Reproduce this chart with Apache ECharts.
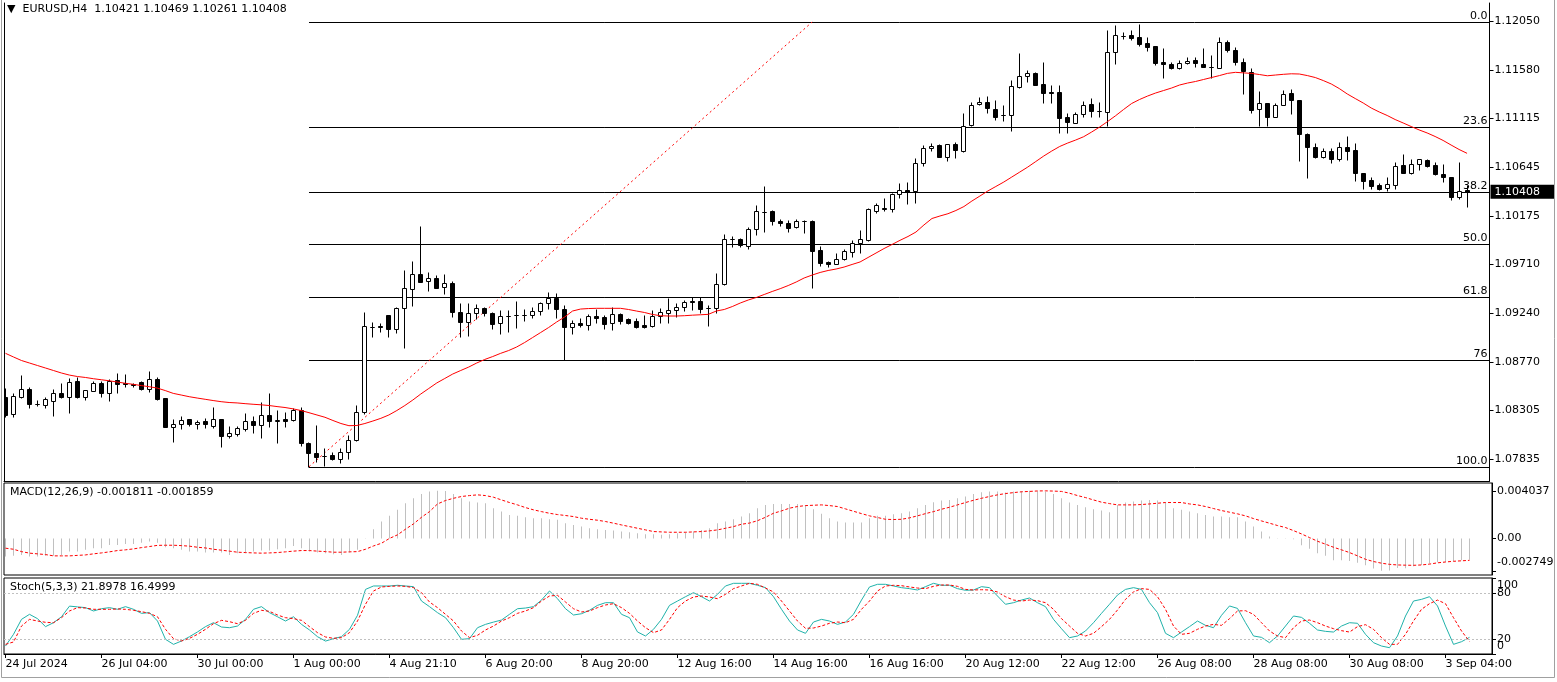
<!DOCTYPE html>
<html><head><meta charset="utf-8">
<script src="https://cdn.jsdelivr.net/npm/echarts@6/dist/echarts.min.js"></script>
<style>html,body{margin:0;padding:0;background:#fff}#c{width:1557px;height:682px}</style>
</head><body><div id="c"></div>
<script>
const symbolName = 'EURUSD,H4';
const open = [1.08436,1.08266,1.08436,1.08510,1.08363,1.08356,1.08397,1.08468,1.08436,1.08587,
1.08436,1.08493,1.08565,1.08468,1.08596,1.08565,1.08555,1.08574,1.08507,1.08603,
1.08420,1.08147,1.08170,1.08218,1.08173,1.08202,1.08157,1.08218,1.08061,1.08077,
1.08130,1.08202,1.08161,1.08257,1.08205,1.08221,1.08212,1.08308,1.07987,1.07891,
1.07868,1.07872,1.07834,1.07907,1.08019,1.08291,1.09109,1.09116,1.09222,1.09084,
1.09286,1.09469,1.09616,1.09549,1.09575,1.09488,1.09526,1.09248,1.09151,1.09238,
1.09286,1.09238,1.09142,1.09209,1.09222,1.09225,1.09222,1.09260,1.09334,1.09382,
1.09282,1.09109,1.09148,1.09129,1.09212,1.09200,1.09142,1.09228,1.09180,1.09164,
1.09126,1.09119,1.09212,1.09238,1.09270,1.09296,1.09356,1.09356,1.09292,1.09286,
1.09517,1.09950,1.09950,1.09885,1.10046,1.10215,1.10222,1.10126,1.10104,1.10071,
1.10126,1.10126,1.09847,1.09734,1.09709,1.09758,1.09831,1.09911,1.09943,1.10225,
1.10254,1.10238,1.10383,1.10424,1.10415,1.10687,1.10825,1.10857,1.10745,1.10864,
1.10799,1.11045,1.11249,1.11268,1.11201,1.11146,1.11146,1.11419,1.11521,1.11553,
1.11444,1.11364,1.11364,1.11124,1.11072,1.11152,1.11249,1.11187,1.11178,1.11749,
1.11909,1.11915,1.11893,1.11836,1.11810,1.11656,1.11637,1.11595,1.11643,1.11675,
1.11634,1.11605,1.11595,1.11851,1.11771,1.11653,1.11557,1.11201,1.11258,1.11124,
1.11242,1.11354,1.11290,1.10960,1.10841,1.10745,1.10799,1.10722,1.10835,1.10809,
1.10585,1.10520,1.10472,1.10440,1.10472,1.10665,1.10585,1.10674,1.10713,1.10665,
1.10578,1.10552,1.10354,1.10421];
const high = [1.08517,1.08474,1.08645,1.08532,1.08404,1.08430,1.08507,1.08565,1.08619,1.08628,
1.08500,1.08587,1.08587,1.08603,1.08667,1.08654,1.08565,1.08590,1.08683,1.08628,
1.08420,1.08221,1.08250,1.08218,1.08212,1.08228,1.08334,1.08218,1.08154,1.08154,
1.08279,1.08250,1.08385,1.08474,1.08308,1.08286,1.08324,1.08334,1.07997,1.08164,
1.07939,1.07907,1.07939,1.08067,1.08356,1.09251,1.09151,1.09142,1.09222,1.09302,
1.09655,1.09741,1.10078,1.09638,1.09606,1.09616,1.09549,1.09334,1.09334,1.09328,
1.09303,1.09253,1.09270,1.09270,1.09356,1.09276,1.09302,1.09350,1.09446,1.09436,
1.09318,1.09174,1.09195,1.09228,1.09276,1.09222,1.09296,1.09238,1.09190,1.09190,
1.09222,1.09270,1.09286,1.09382,1.09334,1.09366,1.09398,1.09398,1.09318,1.09623,
1.10001,1.09982,1.09959,1.10071,1.10280,1.10463,1.10232,1.10145,1.10136,1.10145,
1.10136,1.10136,1.09888,1.09741,1.09815,1.09854,1.09943,1.10039,1.10248,1.10296,
1.10344,1.10398,1.10488,1.10504,1.10735,1.10857,1.10873,1.10864,1.10866,1.10886,
1.11162,1.11271,1.11322,1.11328,1.11290,1.11242,1.11482,1.11739,1.11579,1.11563,
1.11659,1.11434,1.11434,1.11168,1.11172,1.11283,1.11312,1.11274,1.11963,1.12012,
1.11947,1.11963,1.12018,1.11899,1.11812,1.11787,1.11653,1.11675,1.11701,1.11707,
1.11793,1.11723,1.11899,1.11867,1.11797,1.11691,1.11601,1.11377,1.11260,1.11258,
1.11386,1.11396,1.11292,1.10976,1.10880,1.10825,1.10831,1.10889,1.10944,1.10880,
1.10587,1.10545,1.10488,1.10545,1.10697,1.10771,1.10719,1.10721,1.10719,1.10697,
1.10674,1.10554,1.10697,1.10469];
const low = [1.08238,1.08238,1.08426,1.08330,1.08349,1.08324,1.08250,1.08420,1.08276,1.08426,
1.08404,1.08493,1.08430,1.08394,1.08468,1.08532,1.08526,1.08500,1.08484,1.08404,
1.08141,1.08003,1.08122,1.08157,1.08122,1.08138,1.08138,1.07955,1.08041,1.08061,
1.08103,1.08089,1.08041,1.08147,1.07993,1.08147,1.08202,1.07964,1.07762,1.07810,
1.07772,1.07827,1.07795,1.07834,1.08012,1.08269,1.09013,1.09061,1.09007,1.09051,
1.08907,1.09311,1.09540,1.09455,1.09482,1.09421,1.09200,1.09013,1.09023,1.09183,
1.09216,1.09087,1.09036,1.09061,1.09100,1.09164,1.09190,1.09219,1.09279,1.09190,
1.08789,1.09036,1.09109,1.09077,1.09142,1.09084,1.09077,1.09132,1.09132,1.09100,
1.09100,1.09109,1.09142,1.09142,1.09200,1.09260,1.09270,1.09244,1.09116,1.09238,
1.09510,1.09879,1.09873,1.09854,1.09991,1.10023,1.10087,1.10081,1.10017,1.10062,
1.10013,1.09479,1.09696,1.09686,1.09709,1.09751,1.09783,1.09815,1.09936,1.10206,
1.10222,1.10215,1.10350,1.10290,1.10296,1.10658,1.10802,1.10739,1.10706,1.10735,
1.10793,1.11037,1.11242,1.11168,1.11098,1.11088,1.10995,1.11409,1.11466,1.11432,
1.11264,1.11264,1.10976,1.10976,1.11066,1.11124,1.11124,1.11124,1.11043,1.11636,
1.11874,1.11867,1.11812,1.11761,1.11627,1.11499,1.11589,1.11589,1.11637,1.11611,
1.11603,1.11505,1.11593,1.11749,1.11627,1.11345,1.11168,1.11043,1.11043,1.11122,
1.11240,1.11155,1.10706,1.10543,1.10735,1.10735,1.10687,1.10706,1.10713,1.10513,
1.10431,1.10431,1.10424,1.10415,1.10431,1.10583,1.10575,1.10616,1.10649,1.10568,
1.10501,1.10328,1.10335,1.10261];
const close = [1.08260,1.08443,1.08507,1.08363,1.08365,1.08411,1.08468,1.08436,1.08580,1.08436,
1.08500,1.08565,1.08468,1.08590,1.08555,1.08558,1.08548,1.08507,1.08603,1.08414,
1.08147,1.08170,1.08212,1.08170,1.08195,1.08170,1.08218,1.08061,1.08084,1.08132,
1.08202,1.08161,1.08257,1.08205,1.08207,1.08205,1.08308,1.07987,1.07891,1.07859,
1.07866,1.07839,1.07907,1.08019,1.08286,1.09116,1.09111,1.09103,1.09084,1.09286,
1.09479,1.09616,1.09542,1.09575,1.09484,1.09526,1.09248,1.09151,1.09238,1.09286,
1.09238,1.09135,1.09212,1.09212,1.09219,1.09219,1.09260,1.09334,1.09382,1.09282,
1.09109,1.09142,1.09129,1.09212,1.09193,1.09135,1.09228,1.09167,1.09142,1.09109,
1.09109,1.09212,1.09248,1.09270,1.09302,1.09350,1.09344,1.09282,1.09290,1.09517,
1.09950,1.09952,1.09895,1.10046,1.10222,1.10217,1.10126,1.10104,1.10062,1.10126,
1.10124,1.09837,1.09725,1.09709,1.09758,1.09837,1.09911,1.09950,1.10238,1.10280,
1.10238,1.10383,1.10424,1.10408,1.10681,1.10825,1.10847,1.10745,1.10864,1.10809,
1.11043,1.11239,1.11274,1.11210,1.11129,1.11144,1.11425,1.11521,1.11547,1.11434,
1.11360,1.11362,1.11120,1.11081,1.11155,1.11242,1.11187,1.11185,1.11749,1.11915,
1.11907,1.11889,1.11829,1.11803,1.11649,1.11634,1.11595,1.11643,1.11665,1.11643,
1.11605,1.11603,1.11845,1.11771,1.11653,1.11569,1.11194,1.11258,1.11124,1.11242,
1.11348,1.11290,1.10960,1.10841,1.10745,1.10799,1.10722,1.10835,1.10802,1.10585,
1.10513,1.10465,1.10434,1.10478,1.10658,1.10585,1.10671,1.10719,1.10658,1.10575,
1.10552,1.10354,1.10418,1.10408];
const ma = [1.08853,1.08818,1.08784,1.08760,1.08736,1.08712,1.08688,1.08664,1.08644,1.08630,
1.08621,1.08609,1.08599,1.08589,1.08577,1.08565,1.08555,1.08543,1.08532,1.08519,
1.08495,1.08468,1.08452,1.08436,1.08423,1.08411,1.08399,1.08388,1.08380,1.08376,
1.08369,1.08363,1.08358,1.08351,1.08341,1.08332,1.08319,1.08303,1.08282,1.08260,
1.08238,1.08207,1.08178,1.08157,1.08159,1.08178,1.08202,1.08228,1.08260,1.08303,
1.08351,1.08404,1.08462,1.08515,1.08568,1.08611,1.08654,1.08688,1.08721,1.08760,
1.08794,1.08822,1.08853,1.08880,1.08914,1.08957,1.09005,1.09053,1.09101,1.09154,
1.09202,1.09260,1.09279,1.09284,1.09286,1.09286,1.09286,1.09286,1.09275,1.09260,
1.09246,1.09227,1.09215,1.09212,1.09212,1.09215,1.09220,1.09224,1.09228,1.09260,
1.09275,1.09303,1.09337,1.09366,1.09390,1.09419,1.09448,1.09475,1.09505,1.09539,
1.09578,1.09606,1.09631,1.09650,1.09664,1.09683,1.09708,1.09732,1.09775,1.09818,
1.09861,1.09900,1.09940,1.09977,1.10020,1.10088,1.10150,1.10174,1.10196,1.10227,
1.10265,1.10318,1.10366,1.10415,1.10458,1.10501,1.10549,1.10597,1.10645,1.10698,
1.10751,1.10799,1.10843,1.10876,1.10905,1.10937,1.10982,1.11030,1.11083,1.11139,
1.11199,1.11256,1.11295,1.11328,1.11357,1.11381,1.11405,1.11434,1.11453,1.11468,
1.11487,1.11506,1.11525,1.11546,1.11556,1.11551,1.11546,1.11535,1.11523,1.11530,
1.11537,1.11542,1.11540,1.11525,1.11506,1.11477,1.11444,1.11400,1.11348,1.11304,
1.11261,1.11213,1.11175,1.11141,1.11102,1.11069,1.11035,1.11002,1.10973,1.10939,
1.10901,1.10857,1.10814,1.10777];
const macd = [-0.00154,-0.00148,-0.00140,-0.00154,-0.00154,-0.00148,-0.00148,-0.00140,-0.00112,-0.00112,
-0.00097,-0.00083,-0.00083,-0.00055,-0.00055,-0.00047,-0.00047,-0.00036,-0.00027,-0.00036,
-0.00075,-0.00083,-0.00097,-0.00112,-0.00112,-0.00120,-0.00120,-0.00120,-0.00140,-0.00125,
-0.00125,-0.00112,-0.00103,-0.00103,-0.00092,-0.00083,-0.00064,-0.00083,-0.00112,-0.00120,
-0.00125,-0.00134,-0.00140,-0.00120,-0.00097,-0.00003,0.00078,0.00143,0.00191,0.00242,
0.00298,0.00340,0.00377,0.00397,0.00403,0.00401,0.00377,0.00340,0.00312,0.00304,
0.00298,0.00256,0.00227,0.00199,0.00191,0.00179,0.00171,0.00170,0.00162,0.00157,
0.00129,0.00114,0.00100,0.00086,0.00078,0.00072,0.00066,0.00058,0.00052,0.00044,
0.00035,0.00035,0.00030,0.00035,0.00044,0.00049,0.00058,0.00072,0.00086,0.00129,
0.00143,0.00162,0.00185,0.00213,0.00256,0.00284,0.00292,0.00292,0.00292,0.00291,
0.00284,0.00247,0.00208,0.00171,0.00143,0.00134,0.00134,0.00134,0.00171,0.00191,
0.00191,0.00205,0.00213,0.00227,0.00256,0.00284,0.00307,0.00321,0.00326,0.00340,
0.00355,0.00377,0.00391,0.00397,0.00397,0.00388,0.00397,0.00400,0.004037,0.00400,
0.00395,0.00377,0.00340,0.00304,0.00284,0.00264,0.00247,0.00236,0.00222,0.00284,
0.00304,0.00312,0.00321,0.00326,0.00321,0.00304,0.00256,0.00242,0.00227,0.00213,
0.00199,0.00185,0.00185,0.00179,0.00179,0.00143,0.00100,0.00058,0.00016,0.00001,
0.00002,-0.00007,-0.00058,-0.00087,-0.00126,-0.00147,-0.00186,-0.00186,-0.00191,-0.00206,
-0.00227,-0.00255,-0.002749,-0.00272,-0.00250,-0.00252,-0.00235,-0.00225,-0.00212,-0.00203,
-0.00198,-0.00192,-0.00186,-0.001811];
const signal = [-0.00083,-0.00092,-0.00112,-0.00125,-0.00131,-0.00137,-0.00148,-0.00148,-0.00148,-0.00144,
-0.00140,-0.00131,-0.00123,-0.00114,-0.00103,-0.00097,-0.00089,-0.00078,-0.00069,-0.00059,
-0.00058,-0.00058,-0.00061,-0.00066,-0.00075,-0.00081,-0.00092,-0.00100,-0.00108,-0.00117,
-0.00120,-0.00123,-0.00125,-0.00123,-0.00120,-0.00114,-0.00108,-0.00103,-0.00103,-0.00108,
-0.00112,-0.00117,-0.00117,-0.00114,-0.00112,-0.00092,-0.00064,-0.00041,0.00000,0.00030,
0.00078,0.00123,0.00179,0.00227,0.00292,0.00321,0.00340,0.00355,0.00363,0.00369,
0.00363,0.00349,0.00326,0.00304,0.00284,0.00261,0.00242,0.00227,0.00213,0.00202,
0.00194,0.00185,0.00171,0.00162,0.00154,0.00143,0.00129,0.00114,0.00100,0.00086,
0.00072,0.00058,0.00055,0.00052,0.00052,0.00052,0.00055,0.00058,0.00064,0.00072,
0.00086,0.00100,0.00120,0.00130,0.00150,0.00179,0.00213,0.00233,0.00256,0.00270,
0.00278,0.00281,0.00284,0.00278,0.00270,0.00250,0.00230,0.00210,0.00191,0.00177,
0.00162,0.00160,0.00162,0.00174,0.00191,0.00210,0.00227,0.00247,0.00264,0.00284,
0.00304,0.00323,0.00340,0.00355,0.00369,0.00380,0.00388,0.00395,0.00398,0.00402,
0.00403,0.00401,0.00398,0.00383,0.00363,0.00346,0.00326,0.00307,0.00295,0.00284,
0.00284,0.00284,0.00287,0.00292,0.00298,0.00304,0.00304,0.00304,0.00292,0.00284,
0.00270,0.00253,0.00236,0.00222,0.00208,0.00191,0.00168,0.00148,0.00129,0.00109,
0.00092,0.00066,0.00038,0.00007,-0.00024,-0.00049,-0.00075,-0.00097,-0.00120,-0.00148,
-0.00177,-0.00196,-0.00210,-0.00220,-0.00225,-0.00227,-0.00228,-0.00225,-0.00218,-0.00207,
-0.00200,-0.00194,-0.00190,-0.001859];
const stochK = [10.5,25.9,45.6,52.2,46.5,36,41.2,49,63,62,
61,56.6,59.6,61,58.8,62.3,58.8,53.5,54.4,43.4,
19.3,12.7,17.1,22.8,29,36,41.2,35.5,34.6,36.8,
45.6,58.8,62.3,54.4,49,43.4,49,39,31.6,22.8,
17,20.2,22.8,32.5,50.9,85,89.5,89.5,89.5,90.4,
89.5,88.6,69.7,62.3,54.4,47.8,34.6,19.3,20.2,34.6,
39,42,44.7,52.2,59.6,60.5,62.3,71,82.9,72.8,
59.6,51.3,53,57.5,64,67.5,67.5,52.2,47.8,29,
23.7,32.5,45.6,64,69.7,75.4,80.7,75.4,69.7,78.5,
89.5,93,93,93,90.4,87.3,75.4,58.8,43.4,31.6,
27.2,42.1,45.6,43.4,39,42.1,52.2,71,88.2,91.7,
91.7,89.5,87.3,86,84.2,88.6,93,90.4,90.4,86,
83.8,84.2,88.6,87.3,76.3,65.4,67.5,71,73.7,67.5,
62.3,45.6,33.3,21.5,23.7,30.3,41.2,53.5,65.4,77.6,
85,87.3,85,67.5,54.4,27.2,21.5,28.9,36,43.4,
37.7,34.6,50.9,63.2,60,41.2,23.7,21.9,14.9,23.7,
36.8,50,48.2,40.4,31.6,29.8,28.9,36.8,41.2,40.4,
25.9,14.9,10.5,8.3,23.7,50,69.7,71.9,75.4,63.2,
36.8,12.7,16.2,21.8978];
const stochD = [12.7,15.8,36.8,45.6,43.4,41.7,41.2,47.8,56.6,61,
60.5,58.8,58.8,58.8,59.2,58.8,57.5,55.7,53.5,49,
32.5,20.2,17.1,20.6,25.9,32.5,39.9,44.3,42.5,39.9,
44.3,53.5,57.5,56.1,51.3,47.8,46.5,44.3,36,28.1,
22.4,20.6,21.5,28.1,43.4,65.4,82.9,88.2,89,89.5,
89,87.3,80.7,68.4,61,52.2,43.4,30.3,21.5,24.6,
31.6,36.8,43.4,47.8,53.5,56.6,61,69.7,76.3,77.2,
68.4,59.6,55.3,56.6,61,64.5,66.2,61,53.5,43.4,
34.6,28.1,31.6,45.6,61,69.7,75,76.3,75,72.8,
78.5,86,89.5,93,91.7,86.8,81.6,69.7,56.6,43.4,
33.8,34.2,36.8,40.4,42.1,41.2,45.6,58.8,69.7,82.9,
89.5,90.4,89.9,88.2,86.8,86,89,90.8,90.8,89,
85,84.2,84.6,84.2,81.6,75.4,71,69.7,71,70.2,
67.5,58.8,46.5,36.8,27.2,23.7,27.2,36,45.6,57.9,
71.9,81.6,86,85,75.4,58.8,36.8,25.9,27.2,32.5,
36.8,39,37.7,46.5,56.6,57,52.2,41.2,30.3,23.7,
21.5,34.6,43.4,44.7,41.2,36.8,33.3,30.7,28.9,36,
38.6,32.5,21.5,12.7,12.7,25.9,43.4,58.8,66.2,71,
66.2,47.8,30.3,16.4999];
const xTickBars = [0,12,24,36,48,60,72,84,96,108,120,132,144,156,168,180];
const xTickLabels = ['24 Jul 2024','26 Jul 04:00','30 Jul 00:00','1 Aug 00:00','4 Aug 21:10','6 Aug 20:00','8 Aug 20:00','12 Aug 16:00','14 Aug 16:00','16 Aug 16:00','20 Aug 12:00','22 Aug 12:00','26 Aug 08:00','28 Aug 08:00','30 Aug 08:00','3 Sep 04:00'];
const priceTickLabels = ['1.12050','1.11580','1.11115','1.10645','1.10175','1.09710','1.09240','1.08770','1.08305','1.07835'];
const macdTickValues = [0.004037, 0, -0.002749];
const stochLevelTicks = [80, 20];
const stochEdgeTicks = [100, 0];
const stochLevels = [80, 20];
const fibBars = [38, 101];
const fibLow = 1.07762, fibHigh = 1.12040;
const fibLevels = [0, 23.6, 38.2, 50, 61.8, 76, 100];
const fibLabels = ['0.0','23.6','38.2','50.0','61.8','76','100.0'];

const FONT = 'DejaVu Sans';
const last = open.length - 1;
const priceTickValues = priceTickLabels.map(Number);
const chart = echarts.init(document.getElementById('c'), null, {renderer: 'canvas'});
const L = 4, R = 65;
const xMin = -0.1875, xMax = 185.8125;
const txt = {fontFamily: FONT, fontSize: 11, color: '#000'};

function renderCandle(params, api) {
  const i = api.value(0), o = api.value(1), c = api.value(2), l = api.value(3), h = api.value(4);
  const pO = api.coord([i, o]), pC = api.coord([i, c]), pL = api.coord([i, l]), pH = api.coord([i, h]);
  const X = Math.floor(pO[0]) + 0.5;
  const yTop = Math.round(Math.min(pO[1], pC[1])) + 0.5;
  const yBot = Math.round(Math.max(pO[1], pC[1])) + 0.5;
  const bull = c >= o;
  return {type: 'group', children: [
    {type: 'line', shape: {x1: X, y1: Math.round(pH[1]) + 0.5, x2: X, y2: Math.round(pL[1]) + 0.5}, style: {stroke: '#000', lineWidth: 1}},
    {type: 'rect', shape: {x: X - 2, y: yTop, width: 4, height: yBot - yTop}, style: {fill: bull ? '#fff' : '#000', stroke: '#000', lineWidth: 1}}
  ]};
}
function renderFib(params, api) {
  const p = api.coord([api.value(0), api.value(1)]);
  const right = params.coordSys.x + params.coordSys.width;
  const y = Math.round(p[1]) + 0.5;
  return {type: 'group', children: [
    {type: 'line', shape: {x1: p[0], y1: y, x2: right, y2: y}, style: {stroke: '#000', lineWidth: 1}},
    {type: 'text', style: {text: fibLabels[params.dataIndex], x: right - 2, y: y - 1, align: 'right', verticalAlign: 'bottom', fill: '#000', font: '11px "DejaVu Sans"'}}
  ]};
}

const option = {
  animation: false,
  backgroundColor: '#fff',
  graphic: [
    {type: 'line', silent: true, shape: {x1: 1.5, y1: 0, x2: 1.5, y2: 677.5}, style: {stroke: '#a0a0a0', lineWidth: 1}},
    {type: 'line', silent: true, shape: {x1: 1.5, y1: 677.5, x2: 1554.5, y2: 677.5}, style: {stroke: '#a0a0a0', lineWidth: 1}},
    {type: 'line', silent: true, shape: {x1: 1554.5, y1: 0, x2: 1554.5, y2: 677.5}, style: {stroke: '#a0a0a0', lineWidth: 1}}
  ],
  title: [
    {text: '\u25BC  ' + symbolName + '  ' + [open[last], high[last], low[last], close[last]].map(v => v.toFixed(5)).join(' '), left: 7, top: 4, padding: 0, textStyle: Object.assign({fontWeight: 'normal'}, txt)},
    {text: 'MACD(12,26,9) ' + macd[last].toFixed(6) + ' ' + signal[last].toFixed(6), left: 10, top: 487, padding: 0, textStyle: Object.assign({fontWeight: 'normal'}, txt)},
    {text: 'Stoch(5,3,3) ' + stochK[last].toFixed(4) + ' ' + stochD[last].toFixed(4), left: 10, top: 582, padding: 0, textStyle: Object.assign({fontWeight: 'normal'}, txt)}
  ],
  grid: [
    {left: L, right: R, top: 3, height: 478},
    {left: L, right: R, top: 483, height: 92, show: true, borderColor: '#000', borderWidth: 1, backgroundColor: 'transparent'},
    {left: L, right: R, top: 578, height: 76, show: true, borderColor: '#000', borderWidth: 1, backgroundColor: 'transparent'}
  ],
  xAxis: [
    {type: 'value', gridIndex: 0, min: xMin, max: xMax, axisLine: {show: true, onZero: false, lineStyle: {color: '#000'}}, axisTick: {show: false}, axisLabel: {show: false}, splitLine: {show: false}},
    {type: 'value', gridIndex: 1, min: xMin, max: xMax, axisLine: {show: false}, axisTick: {show: false}, axisLabel: {show: false}, splitLine: {show: false}},
    {type: 'value', gridIndex: 2, min: xMin, max: xMax, axisLine: {show: true, onZero: false, lineStyle: {color: '#000'}},
      axisTick: {show: true, length: 4, customValues: xTickBars, lineStyle: {color: '#000'}},
      axisLabel: Object.assign({show: true, customValues: xTickBars, align: 'left', margin: 5, showMinLabel: true, showMaxLabel: true, formatter: v => xTickLabels[xTickBars.indexOf(Math.round(v))] || ''}, txt),
      splitLine: {show: false}}
  ],
  yAxis: [
    {type: 'value', gridIndex: 0, position: 'right', min: 1.07625, max: 1.12223,
      axisLine: {show: true, onZero: false, lineStyle: {color: '#000'}},
      axisTick: {show: true, length: 4, customValues: priceTickValues, lineStyle: {color: '#000'}},
      axisLabel: Object.assign({show: true, customValues: priceTickValues, margin: 5, showMinLabel: true, showMaxLabel: true, formatter: v => v.toFixed(5)}, txt),
      splitLine: {show: false}},
    {type: 'value', gridIndex: 0, position: 'right', min: 1.07625, max: 1.12223,
      axisLine: {show: false}, axisTick: {show: false},
      axisLabel: {show: true, customValues: [close[last]], margin: 1, formatter: v => v.toFixed(5), fontFamily: FONT, fontSize: 11, color: '#fff', backgroundColor: '#000', padding: [2, 14, 1, 4]},
      splitLine: {show: false}},
    {type: 'value', gridIndex: 0, position: 'left', min: 1.07625, max: 1.12223,
      axisLine: {show: true, onZero: false, lineStyle: {color: '#000'}}, axisTick: {show: false}, axisLabel: {show: false}, splitLine: {show: false}},
    {type: 'value', gridIndex: 1, position: 'right', min: -0.003102, max: 0.004695,
      axisLine: {show: true, onZero: false, lineStyle: {color: '#000'}},
      axisTick: {show: true, length: 4, customValues: macdTickValues, lineStyle: {color: '#000'}},
      axisLabel: Object.assign({show: true, customValues: macdTickValues, margin: 5, showMinLabel: true, showMaxLabel: true,
        formatter: v => v === 0 ? '0.00' : (v < 0 ? '{lo|' + v.toFixed(6) + '}' : v.toFixed(6)),
        rich: {lo: {fontFamily: FONT, fontSize: 11, color: '#000', padding: [0, 0, 18, 0]}}}, txt),
      splitLine: {show: false}},
    {type: 'value', gridIndex: 2, position: 'right', min: 0, max: 100,
      axisLine: {show: true, onZero: false, lineStyle: {color: '#000'}},
      axisTick: {show: true, length: 4, customValues: stochLevelTicks.concat(stochEdgeTicks), lineStyle: {color: '#000'}},
      axisLabel: Object.assign({show: true, customValues: stochLevelTicks, margin: 5, formatter: v => String(v)}, txt),
      splitLine: {show: false}},
    {type: 'value', gridIndex: 2, position: 'right', min: 0, max: 100,
      axisLine: {show: false}, axisTick: {show: false},
      axisLabel: Object.assign({show: true, customValues: stochEdgeTicks, margin: 5, showMinLabel: true, showMaxLabel: true,
        formatter: v => v === 100 ? '{hi|100}' : '{lo|0}',
        rich: {hi: {fontFamily: FONT, fontSize: 11, color: '#000', padding: [14, 0, 0, 0]}, lo: {fontFamily: FONT, fontSize: 11, color: '#000', padding: [0, 0, 16, 0]}}}, txt),
      splitLine: {show: false}}
  ],
  series: [
    {type: 'custom', name: 'fib', xAxisIndex: 0, yAxisIndex: 0, silent: true, clip: true, z: 1,
      data: fibLevels.map(lv => [fibBars[0], fibHigh - lv / 100 * (fibHigh - fibLow)]), renderItem: renderFib},
    {type: 'line', name: 'fibTrend', xAxisIndex: 0, yAxisIndex: 0, silent: true, symbol: 'none', z: 2,
      data: [[fibBars[0], fibLow], [fibBars[1], fibHigh]], lineStyle: {color: '#ff0000', width: 1, type: [2, 3]}},
    {type: 'custom', name: 'candles', xAxisIndex: 0, yAxisIndex: 0, silent: true, clip: true, z: 3,
      dimensions: ['i', 'open', 'close', 'low', 'high'], encode: {x: 0, y: [1, 2, 3, 4]},
      data: open.map((o, i) => [i, o, close[i], low[i], high[i]]), renderItem: renderCandle},
    {type: 'line', name: 'MA', xAxisIndex: 0, yAxisIndex: 0, silent: true, symbol: 'none', z: 4,
      data: ma.map((v, i) => [i, v]), lineStyle: {color: '#ff0000', width: 1}},
    {type: 'bar', name: 'MACD', xAxisIndex: 1, yAxisIndex: 3, silent: true, barWidth: 1,
      data: macd.map((v, i) => [i, v]), itemStyle: {color: '#c0c0c0'}},
    {type: 'line', name: 'Signal', xAxisIndex: 1, yAxisIndex: 3, silent: true, symbol: 'none',
      data: signal.map((v, i) => [i, v]), lineStyle: {color: '#ff0000', width: 1, type: [3, 2]}},
    {type: 'line', name: 'K', xAxisIndex: 2, yAxisIndex: 4, silent: true, symbol: 'none',
      data: stochK.map((v, i) => [i, v]), lineStyle: {color: '#20b2aa', width: 1},
      markLine: {silent: true, symbol: 'none', label: {show: false}, lineStyle: {color: '#c0c0c0', type: [2, 2], width: 1},
        data: stochLevels.map(v => ({yAxis: v}))}},
    {type: 'line', name: 'D', xAxisIndex: 2, yAxisIndex: 4, silent: true, symbol: 'none',
      data: stochD.map((v, i) => [i, v]), lineStyle: {color: '#ff0000', width: 1, type: [3, 2]}}
  ]
};
chart.setOption(option);
</script></body></html>
